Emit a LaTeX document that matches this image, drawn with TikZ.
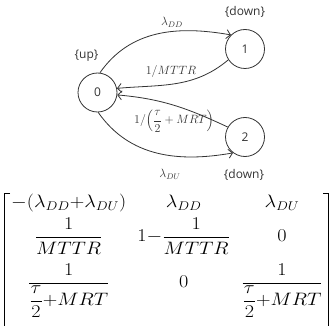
\RequirePackage{fix-cm}
\documentclass[tikz,border=0pt]{standalone}
\usepackage{amsmath}
\usepackage{graphicx}
\usepackage{fontspec}
\newfontfamily\lblfont{Open Sans}
\usetikzlibrary{arrows.meta}
\definecolor{ink}{HTML}{333333}
\tikzset{
  state/.style={circle, draw=ink, line width=0.8pt, minimum size=39pt, inner sep=0pt, font=\lblfont\fontsize{12}{14}\selectfont, text=ink},
  tag/.style={font=\lblfont\fontsize{12}{14}\selectfont, text=ink, inner sep=0pt},
  elabel/.style={font=\fontsize{12}{14}\selectfont, text=ink, inner sep=0pt},
  trans/.style={draw=ink, line width=0.8pt, -{Straight Barb[length=4pt,width=9pt]}},
  brack/.style={draw=black, line width=1pt},
}
\begin{document}
\begin{tikzpicture}[x=1pt,y=1pt]
\useasboundingbox (0,0) rectangle (332,-326);
\clip (0,0) rectangle (332,-326);
\node[state] (n0) at (97.5,-92.5) {0};
\node[state] (n1) at (245,-49) {1};
\node[state] (n2) at (245,-137) {2};
\node[tag] (up) at (86.5,-56) {\{up\}};
\node[tag] (d1) at (245,-12) {\{down\}};
\node[tag] (d2) at (244,-175) {\{down\}};
\draw[trans] (n0.83) to[out=55,in=170] (n1.135);
\draw[trans] (n1.213) to[out=220,in=5] (n0.12);
\draw[trans] (n2.150) to[out=155,in=-5] (n0.-7);
\draw[trans] (n0.-88) to[out=-55,in=190] (n2.233);
\node[elabel] (ldd) at (172,-22) {$\lambda_{DD}$};
\node[elabel] (lmttr) at (171,-72) {$1/MTTR$};
\node[elabel] (lmrt) at (174,-121) {$1/\Bigl(\dfrac{\tau}{2}+MRT\Bigr)$};
\node[elabel] (ldu) at (170,-174) {$\lambda_{DU}$};
\node[anchor=north west, inner sep=0pt] (M) at (11,-192.4) {\scalebox{1.12}[1]{\fontsize{18}{21.6}\selectfont
$\begin{matrix}
-(\lambda_{DD}{+}\lambda_{DU}) & \lambda_{DD} & \lambda_{DU}\\[3.7pt]
\dfrac{1}{MTTR} & 1{-}\dfrac{1}{MTTR} & 0\\[15.7pt]
\dfrac{1}{\dfrac{\tau}{2}{+}MRT} & 0 & \dfrac{1}{\dfrac{\tau}{2}{+}MRT}
\end{matrix}$}};
\draw[brack] (10,-193.5) -| (4.5,-330);
\draw[brack] (323,-193.5) -| (328.5,-330);
\end{tikzpicture}
\end{document}
